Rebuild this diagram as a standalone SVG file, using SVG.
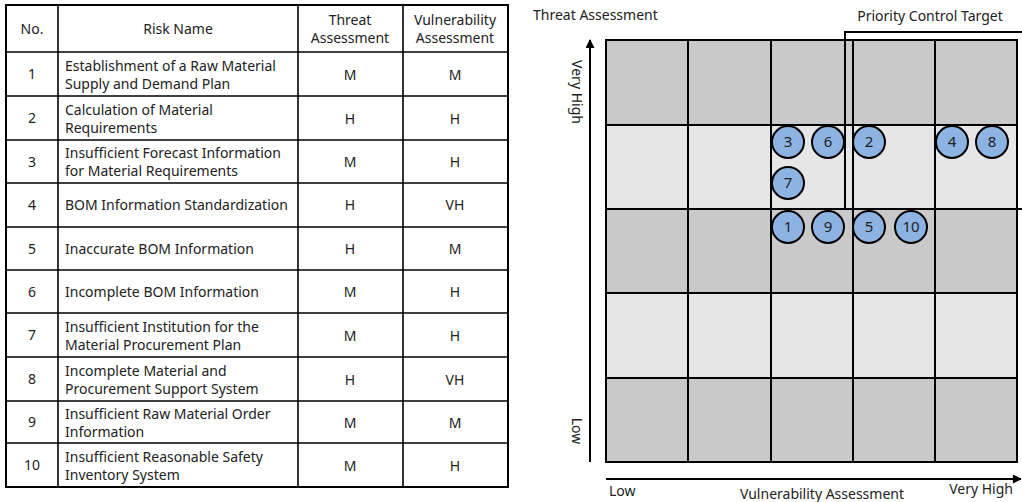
<svg xmlns="http://www.w3.org/2000/svg" width="1022" height="502" viewBox="0 0 1022 502">
<style>
text{font-family:"Noto Sans","Open Sans",sans-serif;font-size:14px;fill:#222}
.c{text-anchor:middle}
.tl{stroke:#000;stroke-width:1.6;fill:none}
.gl{stroke:#000;stroke-width:2;fill:none}
.dk{fill:#c9c9c9}
.lt{fill:#e6e6e6}
.node circle{fill:#8db3e2;stroke:#000;stroke-width:2}
.node text{font-size:15px;text-anchor:middle}
</style>
<defs>
<marker id="ah" viewBox="0 0 10 10" refX="9" refY="5" markerWidth="10" markerHeight="9" markerUnits="userSpaceOnUse" orient="auto">
<path d="M0,0 L10,5 L0,10 z" fill="#000"/>
</marker>
</defs>
<g id="table">
<rect x="6" y="5" width="502" height="482" fill="#fff" stroke="#000" stroke-width="2"/>
<g class="tl">
<line x1="58" y1="5" x2="58" y2="487"/>
<line x1="298" y1="5" x2="298" y2="487"/>
<line x1="403" y1="5" x2="403" y2="487"/>
<line x1="6" y1="52" x2="508" y2="52"/>
<line x1="6" y1="96" x2="508" y2="96"/>
<line x1="6" y1="140" x2="508" y2="140"/>
<line x1="6" y1="183" x2="508" y2="183"/>
<line x1="6" y1="227" x2="508" y2="227"/>
<line x1="6" y1="270" x2="508" y2="270"/>
<line x1="6" y1="313" x2="508" y2="313"/>
<line x1="6" y1="357" x2="508" y2="357"/>
<line x1="6" y1="401" x2="508" y2="401"/>
<line x1="6" y1="443" x2="508" y2="443"/>
</g>
<text class="c" x="32" y="34">No.</text>
<text class="c" x="178" y="34">Risk Name</text>
<text class="c" x="350" y="25">Threat</text>
<text class="c" x="350" y="43">Assessment</text>
<text class="c" x="455" y="25">Vulnerability</text>
<text class="c" x="455" y="43">Assessment</text>
<g id="row1"><text class="c" x="32" y="79">1</text><text x="65" y="71">Establishment of a Raw Material</text><text x="65" y="89">Supply and Demand Plan</text><text class="c" x="350" y="80">M</text><text class="c" x="455" y="80">M</text></g>
<g id="row2"><text class="c" x="32" y="123">2</text><text x="65" y="115">Calculation of Material</text><text x="65" y="133">Requirements</text><text class="c" x="350" y="124">H</text><text class="c" x="455" y="124">H</text></g>
<g id="row3"><text class="c" x="32" y="167">3</text><text x="65" y="158">Insufficient Forecast Information</text><text x="65" y="176">for Material Requirements</text><text class="c" x="350" y="167">M</text><text class="c" x="455" y="167">H</text></g>
<g id="row4"><text class="c" x="32" y="210">4</text><text x="65" y="210">BOM Information Standardization</text><text class="c" x="350" y="210">H</text><text class="c" x="455" y="210">VH</text></g>
<g id="row5"><text class="c" x="32" y="254">5</text><text x="65" y="254">Inaccurate BOM Information</text><text class="c" x="350" y="254">H</text><text class="c" x="455" y="254">M</text></g>
<g id="row6"><text class="c" x="32" y="297">6</text><text x="65" y="297">Incomplete BOM Information</text><text class="c" x="350" y="297">M</text><text class="c" x="455" y="297">H</text></g>
<g id="row7"><text class="c" x="32" y="340">7</text><text x="65" y="332">Insufficient Institution for the</text><text x="65" y="350">Material Procurement Plan</text><text class="c" x="350" y="341">M</text><text class="c" x="455" y="341">H</text></g>
<g id="row8"><text class="c" x="32" y="384">8</text><text x="65" y="376">Incomplete Material and</text><text x="65" y="394">Procurement Support System</text><text class="c" x="350" y="385">H</text><text class="c" x="455" y="385">VH</text></g>
<g id="row9"><text class="c" x="32" y="427">9</text><text x="65" y="419">Insufficient Raw Material Order</text><text x="65" y="437">Information</text><text class="c" x="350" y="428">M</text><text class="c" x="455" y="428">M</text></g>
<g id="row10"><text class="c" x="32" y="470">10</text><text x="65" y="462">Insufficient Reasonable Safety</text><text x="65" y="480">Inventory System</text><text class="c" x="350" y="471">M</text><text class="c" x="455" y="471">H</text></g>
</g>
<g id="grid">
<rect class="dk" x="606" y="40" width="411" height="85"/>
<rect class="lt" x="606" y="125" width="411" height="84"/>
<rect class="dk" x="606" y="209" width="411" height="84"/>
<rect class="lt" x="606" y="293" width="411" height="85"/>
<rect class="dk" x="606" y="378" width="411" height="84"/>
<g class="gl">
<rect x="606" y="40" width="411" height="422"/>
<line x1="688" y1="40" x2="688" y2="462"/>
<line x1="771" y1="40" x2="771" y2="462"/>
<line x1="853" y1="40" x2="853" y2="462"/>
<line x1="935" y1="40" x2="935" y2="462"/>
<line x1="606" y1="125" x2="1017" y2="125"/>
<line x1="606" y1="209" x2="1017" y2="209"/>
<line x1="606" y1="293" x2="1017" y2="293"/>
<line x1="606" y1="378" x2="1017" y2="378"/>
</g>
</g>
<g id="priority">
<path class="gl" d="M1024,32 H845 V209 H1024"/>
<text class="c" x="930" y="21">Priority Control Target</text>
</g>
<g id="connectors">
<line x1="590" y1="462" x2="590" y2="40" stroke="#000" stroke-width="2" marker-end="url(#ah)"/>
<line x1="606" y1="479" x2="1021" y2="479" stroke="#000" stroke-width="2" marker-end="url(#ah)"/>
</g>
<g id="labels">
<text x="533" y="20">Threat Assessment</text>
<text transform="translate(572,92) rotate(90)" class="c">Very High</text>
<text transform="translate(572,431) rotate(90)" class="c">Low</text>
<text x="609" y="496">Low</text>
<text class="c" x="822" y="499">Vulnerability Assessment</text>
<text x="1013" y="494" text-anchor="end">Very High</text>
</g>
<g id="n3" class="node"><circle cx="788" cy="142" r="16"/><text x="788" y="147">3</text></g>
<g id="n6" class="node"><circle cx="828" cy="142" r="16"/><text x="828" y="147">6</text></g>
<g id="n2" class="node"><circle cx="869" cy="142" r="16"/><text x="869" y="147">2</text></g>
<g id="n4" class="node"><circle cx="952" cy="142" r="16"/><text x="952" y="147">4</text></g>
<g id="n8" class="node"><circle cx="992" cy="142" r="16"/><text x="992" y="147">8</text></g>
<g id="n7" class="node"><circle cx="788" cy="183" r="16"/><text x="788" y="188">7</text></g>
<g id="n1" class="node"><circle cx="788" cy="227" r="16"/><text x="788" y="232">1</text></g>
<g id="n9" class="node"><circle cx="828" cy="227" r="16"/><text x="828" y="232">9</text></g>
<g id="n5" class="node"><circle cx="869" cy="227" r="16"/><text x="869" y="232">5</text></g>
<g id="n10" class="node"><circle cx="911" cy="227" r="16"/><text x="911" y="232">10</text></g>
</svg>
